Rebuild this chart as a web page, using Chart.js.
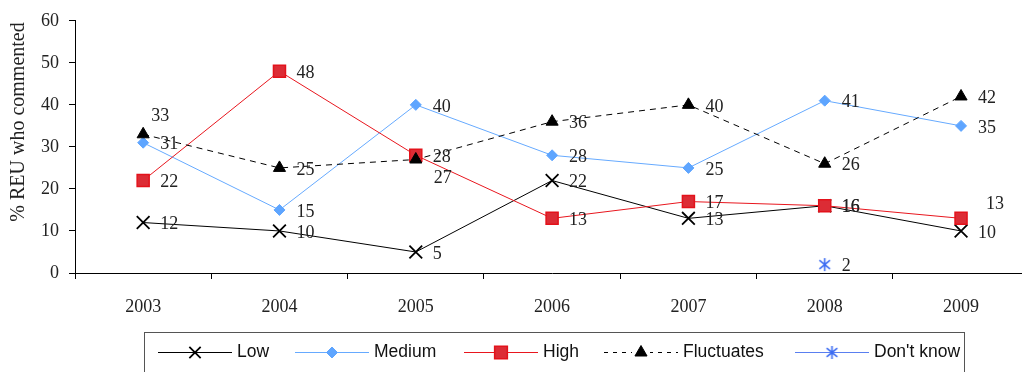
<!DOCTYPE html>
<html>
<head>
<meta charset="utf-8">
<script src="https://cdn.jsdelivr.net/npm/chart.js@4/dist/chart.umd.min.js"></script>
<style>
  html, body { margin: 0; padding: 0; background: #fff; overflow: hidden; }
  canvas { display: block; }
</style>
</head>
<body>
<canvas id="chart" width="1040" height="372"></canvas>
<script>
// Survey years and the share of REU respondents giving each answer (%)
const years = ['2003', '2004', '2005', '2006', '2007', '2008', '2009'];
const low = [12, 10, 5, 22, 13, 16, 10];
const medium = [31, 15, 40, 28, 25, 41, 35];
const high = [22, 48, 28, 13, 17, 16, 13];
const fluctuates = [33, 25, 27, 36, 40, 26, 42];
const dontKnow = [null, null, null, null, null, 2, null];
const yTicks = [0, 10, 20, 30, 40, 50, 60];

const SERIF = '"Liberation Serif", "Times New Roman", serif';
const SANS = '"Liberation Sans", Arial, sans-serif';

// Asterisk marker (X with a vertical stroke)
function makeAsterisk(color) {
  const c = document.createElement('canvas');
  c.width = 15; c.height = 15;
  const g = c.getContext('2d');
  g.strokeStyle = color;
  g.lineWidth = 1.6;
  g.beginPath();
  g.moveTo(7.5, 1); g.lineTo(7.5, 14);
  g.moveTo(2.2, 3.2); g.lineTo(12.8, 11.8);
  g.moveTo(12.8, 3.2); g.lineTo(2.2, 11.8);
  g.stroke();
  return c;
}
const asterisk = makeAsterisk('#3C6CF2');

// Label nudges (pixels) for labels moved away from the default right-hand spot
const labelNudge = {
  'Fluctuates:0': [8, -18],
  'Fluctuates:2': [18, 19],
  'High:6': [25, -14]
};

// Left edge of each legend entry's line sample
const legendStarts = [158, 295, 464, 604, 795];

const datasets = [
  { label: 'Low', data: low, borderColor: '#000', backgroundColor: '#000',
    borderWidth: 1, pointStyle: 'crossRot', pointRadius: 9, pointBorderWidth: 1.8,
    pointBorderColor: '#000', order: 5 },
  { label: 'Medium', data: medium, borderColor: '#66AAFF', backgroundColor: '#5EA5FF',
    borderWidth: 1, pointStyle: 'rectRot', pointRadius: 5.5, pointBorderWidth: 1,
    pointBorderColor: '#5EA5FF', order: 4 },
  { label: 'High', data: high, borderColor: '#E8161E', backgroundColor: '#DC2C35',
    borderWidth: 1, pointStyle: 'rect', pointRadius: 8.5, pointBorderWidth: 1.5,
    pointBorderColor: '#E3121B', order: 3 },
  { label: 'Fluctuates', data: fluctuates, borderColor: '#000', backgroundColor: '#000',
    borderWidth: 1, borderDash: [6, 5], pointStyle: 'triangle', pointRadius: 7,
    pointBorderWidth: 1, pointBorderColor: '#000', order: 2 },
  { label: "Don't know", data: dontKnow, borderColor: '#5A7FF0', backgroundColor: '#3C6CF2',
    borderWidth: 1, pointStyle: asterisk, pointRadius: 7, pointBorderWidth: 1,
    pointBorderColor: '#3C6CF2', order: 1 }
];

// Value labels next to each marker
const valueLabels = {
  id: 'valueLabels',
  afterDatasetsDraw(chart) {
    const ctx = chart.ctx;
    ctx.save();
    ctx.font = '18px ' + SERIF;
    ctx.fillStyle = '#222';
    ctx.textAlign = 'left';
    ctx.textBaseline = 'middle';
    chart.data.datasets.forEach((ds, di) => {
      const meta = chart.getDatasetMeta(di);
      meta.data.forEach((pt, i) => {
        const v = ds.data[i];
        if (v === null || v === undefined) return;
        const n = labelNudge[ds.label + ':' + i] || [17, 2];
        ctx.fillText(String(v), pt.x + n[0], pt.y + n[1]);
      });
    });
    ctx.restore();
  }
};

// Axis title and boxed legend with line + marker samples
const decorations = {
  id: 'decorations',
  afterDraw(chart) {
    const ctx = chart.ctx;
    ctx.save();
    ctx.font = '20px ' + SERIF;
    ctx.fillStyle = '#222';
    ctx.textAlign = 'center';
    ctx.textBaseline = 'middle';
    ctx.translate(19, 122);
    ctx.rotate(-Math.PI / 2);
    ctx.fillText('% REU who commented', 0, 0);
    ctx.restore();

    ctx.save();
    const box = { left: 144.5, top: 332.5, right: 964.5, bottom: 390 };
    ctx.strokeStyle = '#555';
    ctx.lineWidth = 1;
    ctx.strokeRect(box.left, box.top, box.right - box.left, box.bottom - box.top);
    const cy = 352.5;
    const lineLen = 74;
    ctx.font = '17.5px ' + SANS;
    ctx.textBaseline = 'middle';
    ctx.textAlign = 'left';
    chart.data.datasets.forEach((ds, k) => {
      const x = legendStarts[k];
      ctx.save();
      ctx.strokeStyle = ds.borderColor;
      ctx.lineWidth = 1;
      ctx.setLineDash(ds.borderDash ? [4, 5] : []);
      ctx.beginPath();
      ctx.moveTo(x, cy);
      ctx.lineTo(x + lineLen, cy);
      ctx.stroke();
      ctx.setLineDash([]);
      ctx.fillStyle = ds.backgroundColor;
      ctx.strokeStyle = ds.pointBorderColor;
      const r = ds.pointStyle === 'rect' ? 9 : (ds.pointStyle === 'crossRot' ? 8 : ds.pointRadius);
      ctx.lineWidth = ds.pointBorderWidth;
      if (ds.pointStyle === 'triangle') {
        ctx.fillStyle = '#fff';
        ctx.fillRect(x + lineLen / 2 - 9, cy - 6, 18, 12);
        ctx.fillStyle = ds.backgroundColor;
      }
      Chart.helpers.drawPoint(ctx, { pointStyle: ds.pointStyle, radius: r,
        borderWidth: ds.pointBorderWidth, rotation: 0 }, x + lineLen / 2, cy);
      ctx.restore();
      ctx.fillStyle = '#111';
      ctx.fillText(ds.label, x + lineLen + 5, cy);
    });
    ctx.restore();
  }
};

new Chart(document.getElementById('chart'), {
  type: 'line',
  data: { labels: years, datasets },
  plugins: [valueLabels, decorations],
  options: {
    responsive: false,
    animation: false,
    spanGaps: false,
    layout: { padding: { top: 14, right: 9.5, left: 0, bottom: 0 } },
    plugins: { legend: { display: false }, tooltip: { enabled: false } },
    elements: { line: { tension: 0, fill: false } },
    scales: {
      x: {
        type: 'category',
        offset: true,
        grid: { offset: true, drawOnChartArea: false, drawTicks: true, tickLength: 6, color: '#000', lineWidth: 1 },
        border: { display: true, color: '#000', width: 1 },
        ticks: { font: { family: SERIF, size: 18 }, color: '#222', padding: 17, maxRotation: 0 },
        afterFit(scale) { scale.height = 99; }
      },
      y: {
        min: 0, max: 60,
        afterBuildTicks(scale) { scale.ticks = yTicks.map(v => ({ value: v })); },
        grid: { drawOnChartArea: false, drawTicks: true, tickLength: 6, color: '#000', lineWidth: 1 },
        border: { display: true, color: '#000', width: 1 },
        ticks: { font: { family: SERIF, size: 18 }, color: '#222', padding: 10 },
        afterFit(scale) { scale.width = 75; }
      }
    }
  }
});
</script>
</body>
</html>
